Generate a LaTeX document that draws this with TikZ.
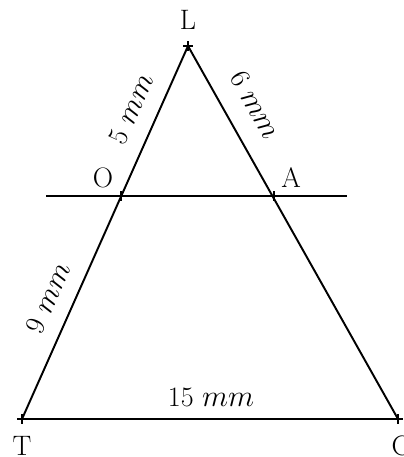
\documentclass[tikz,border=0pt]{standalone}
\usetikzlibrary{positioning}
\tikzset{
      segment/.style={
        draw=black,
        line width=1.1pt
      },
      pointmark/.style={
        draw=black,
        line width=0.8pt
      },
      pointname/.style={
        font=\fontsize{16}{19}\selectfont,
        inner sep=1pt
      },
      lengthlabel/.style={
        font=\fontsize{16}{19}\selectfont,
        inner sep=1pt
      }
    }

\begin{document}
\begin{tikzpicture}[x=0.02cm,y=-0.02cm]
    \useasboundingbox (0,0) rectangle (403,457);
    \coordinate (L) at (188,46);
    \coordinate (T) at (22,419);
    \coordinate (C) at (398,419);
    \coordinate (O) at (121,196);
    \coordinate (A) at (274,196);
    \coordinate (d1) at (46,196);
    \coordinate (d2) at (347,196);
    \draw[segment] (L) -- (T) -- (C) -- cycle;
    \draw[segment] (d1) -- (d2);
    \foreach \p in {L,T,C,O,A}
      \draw[pointmark] (\p) +(-5,0) -- +(5,0) (\p) +(0,-5) -- +(0,5);
    \node[pointname] (nL) at (188,20) {L};
    \node[pointname] (nO) at (103,178) {O};
    \node[pointname] (nA) at (291,178) {A};
    \node[pointname] (nT) at (22,446) {T};
    \node[pointname] (nC) at (401,446) {C};
    \node[lengthlabel, rotate=66] (lLO) at (131,109) {5 $mm$};
    \node[lengthlabel, rotate=-60.6] (lLA) at (255,105) {6 $mm$};
    \node[lengthlabel, rotate=66] (lOT) at (48,298) {9 $mm$};
    \node[lengthlabel] (lTC) at (211,397) {15 $mm$};
    \end{tikzpicture}
\end{document}
